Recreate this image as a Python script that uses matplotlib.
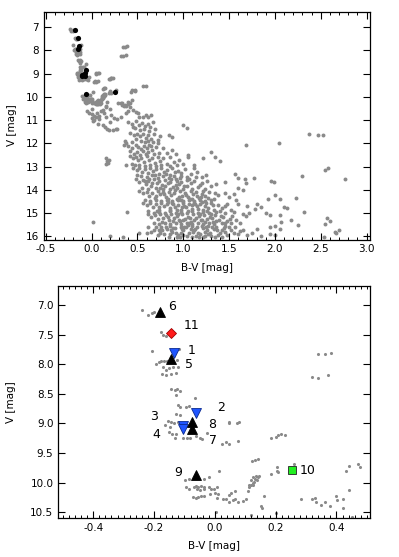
import numpy as np
import matplotlib
matplotlib.use("Agg")
import matplotlib.pyplot as plt
from matplotlib.ticker import MultipleLocator

plt.rcParams['font.family'] = ['DejaVu Sans']

# ---- field stars in the zoomed region (also shown in top panel)
near_bv = [-0.24, -0.22, -0.205, -0.20, -0.178, -0.17, -0.16, -0.205, -0.118,
           -0.192, -0.184, -0.176, -0.167, -0.157, -0.123, -0.174, -0.16, -0.143, -0.127,
           -0.17, -0.162, -0.151, -0.136, -0.121,
           -0.143, -0.132, -0.124, -0.116, -0.127, -0.064,
           -0.121, -0.113, -0.096, -0.085, -0.127, -0.114,
           -0.155, -0.144, -0.133, -0.120, -0.110, -0.151, -0.140, -0.127,
           -0.132, -0.105, -0.092, -0.083, -0.061, -0.050, -0.041, -0.026, -0.163, -0.149,
           0.046, 0.046, 0.072, 0.081, 0.024, 0.037, 0.045, 0.075,
           -0.099, -0.086, -0.034, -0.020, 0.015,
           -0.096, -0.085, -0.070, -0.061, -0.054, -0.046, -0.037, -0.020, -0.011,
           -0.059, -0.048, -0.037, -0.072, -0.063, -0.056, -0.046, -0.034, -0.017,
           -0.004, 0.007, 0.002, 0.010, 0.007,
           0.026, 0.037, 0.046, 0.059, 0.068, 0.075, 0.092, 0.101, 0.048, 0.054, 0.068,
           0.108, 0.114, 0.119, 0.127, 0.133, 0.141,
           0.122, 0.133, 0.141, 0.185, 0.201, 0.207, 0.217, 0.232,
           0.203, 0.204, 0.209, 0.185, 0.261,
           0.125, 0.135, 0.144, 0.119, 0.130, 0.138, 0.114, 0.125,
           0.163, 0.152, 0.155, 0.201, 0.003,
           0.283, 0.321, 0.330, 0.332, 0.349, 0.363, 0.379, 0.400, 0.401, 0.420, 0.422, 0.442,
           0.431, 0.442, 0.471, 0.476,
           0.341, 0.362, 0.381, 0.321, 0.341, 0.372]
near_v = [7.08, 7.17, 7.14, 7.12, 7.46, 7.51, 7.52, 7.78, 7.75,
          7.99, 7.96, 7.95, 7.95, 7.95, 7.93, 8.17, 8.19, 8.17, 8.15,
          8.05, 8.09, 8.06, 8.05, 8.05,
          8.42, 8.44, 8.41, 8.45, 8.52, 8.57,
          8.69, 8.73, 8.72, 8.70, 8.84, 8.86,
          8.95, 8.97, 8.99, 8.98, 9.00, 9.14, 9.17, 9.18,
          9.25, 9.25, 9.24, 9.24, 9.21, 9.24, 9.27, 9.16, 9.03, 9.06,
          8.97, 9.00, 8.99, 8.98, 9.34, 9.32, 9.34, 9.30,
          9.96, 9.94, 9.93, 9.91, 9.80,
          10.08, 10.10, 10.07, 10.06, 10.07, 10.06, 10.07, 10.08, 10.10,
          10.11, 10.12, 10.11, 10.24, 10.25, 10.24, 10.22, 10.22, 10.19,
          10.11, 10.08, 10.18, 10.19, 10.25,
          10.28, 10.28, 10.32, 10.29, 10.27, 10.32, 10.31, 10.28, 10.21, 10.17, 10.14,
          10.14, 10.08, 10.03, 10.00, 9.94, 9.91,
          9.64, 9.62, 9.60, 9.24, 9.22, 9.19, 9.18, 9.19,
          9.73, 9.80, 9.82, 9.85, 9.69,
          9.90, 9.89, 9.88, 9.96, 9.98, 9.96, 10.04, 10.04,
          10.22, 10.40, 10.42, 10.51, 10.50,
          10.27, 10.28, 10.26, 10.33, 10.37, 10.33, 10.39, 10.23, 10.29, 10.28, 10.42, 10.13,
          9.80, 9.71, 9.69, 9.73,
          7.83, 7.83, 7.81, 8.22, 8.23, 8.18]

# ---- fainter / redder field stars (top panel only)
far_bv = [0.56, 0.59, -0.03, 0.00, 0.03, 0.05, 0.08, 0.01, 0.03, 0.08, 0.16, 0.21, 0.25, 0.28, 0.32,
          0.45, 0.48, 0.51, 0.52, 0.56, 0.59, 0.62, 0.65, 0.40, 0.38, 0.12, 0.10, 0.14, -0.05, 0.06,
          0.15, 0.17, 0.19, 0.23, 0.27, 0.28, 0.20, 0.12, 0.07, 0.02,
          0.40, 0.44, 0.48, 0.52, 0.55, 0.58, 0.61, 0.64, 0.47, 0.53, 0.57, 0.63, 0.67, 0.69, 1.00, 1.04, 0.45,
          0.42, 0.46, 0.50, 0.53, 0.56, 0.59, 0.62, 0.65, 0.68, 0.72, 0.48, 0.54, 0.58, 0.61, 0.44, 0.37,
          0.84, 0.88, 0.67, 0.75, 0.36,
          0.35, 0.40, 0.44, 0.48, 0.51, 0.54, 0.57, 0.60, 0.63, 0.66, 0.70, 0.74, 0.78, 0.42, 0.46, 0.50,
          0.53, 0.56, 0.59, 0.62, 0.68, 0.82, 0.88, 0.92, 1.05, 1.30, 1.68, 2.04, 2.37, 2.47, 2.52, 0.72, 0.65,
          0.16, 0.17, 0.18, 0.16, 0.19,
          0.42, 0.45, 0.48, 0.51, 0.54, 0.57, 0.60, 0.63, 0.66, 0.69, 0.72, 0.75, 0.78, 0.82, 0.86, 0.90,
          0.95, 1.00, 1.05, 1.12, 1.22, 1.35, 1.40, 0.38, 0.44, 0.47, 0.52, 0.58, 0.64, 0.70, 0.76, 0.85, 0.93,
          0.45, 0.49, 0.52, 0.55, 0.58, 0.61, 0.64, 0.67, 0.70, 0.73, 0.76, 0.79, 0.82, 0.85, 0.88, 0.91,
          0.94, 0.98, 1.02, 1.08, 1.15, 1.20, 0.50, 0.54, 0.60, 0.66, 0.72, 0.78, 0.84, 0.90, 0.96, 1.04,
          1.25, 1.56, 1.60, 1.67, 1.77, 2.55, 2.58, 2.30, 1.12,
          0.48, 0.52, 0.56, 0.59, 0.62, 0.65, 0.68, 0.71, 0.74, 0.77, 0.80, 0.83, 0.86, 0.89, 0.92, 0.95,
          0.98, 1.01, 1.04, 1.08, 1.12, 1.16, 1.20, 1.26, 1.30, 1.36, 0.55, 0.62, 0.70, 0.78, 0.85, 0.93,
          1.00, 1.10, 1.68, 1.96, 1.99, 2.76, 1.60, 1.45,
          0.52, 0.56, 0.60, 0.63, 0.66, 0.69, 0.72, 0.75, 0.78, 0.81, 0.84, 0.87, 0.90, 0.93, 0.96, 0.99,
          1.02, 1.05, 1.08, 1.11, 1.14, 1.17, 1.20, 1.24, 1.28, 1.33, 1.38, 1.45, 0.58, 0.64, 0.70, 0.76,
          0.82, 0.88, 0.94, 1.00, 1.06, 1.12, 1.18, 1.24, 1.30, 1.65, 1.92, 2.00, 2.05, 2.23, 1.50, 1.58, 1.55,
          0.56, 0.60, 0.64, 0.67, 0.70, 0.73, 0.76, 0.79, 0.82, 0.85, 0.88, 0.91, 0.94, 0.97, 1.00, 1.03,
          1.06, 1.09, 1.12, 1.15, 1.18, 1.21, 1.24, 1.27, 1.30, 1.34, 1.38, 1.42, 1.48, 1.52, 0.62, 0.68,
          0.74, 0.80, 0.86, 0.92, 0.98, 1.04, 1.10, 1.16, 1.22, 1.28, 1.36, 1.70, 1.80, 1.85, 1.78, 2.10,
          2.13, 2.32, 0.39, 1.60,
          0.61, 0.65, 0.69, 0.72, 0.75, 0.78, 0.81, 0.84, 0.87, 0.90, 0.93, 0.96, 0.99, 1.02, 1.05, 1.08,
          1.11, 1.14, 1.17, 1.20, 1.23, 1.26, 1.29, 1.32, 1.35, 1.39, 1.43, 1.48, 1.53, 1.58, 0.68, 0.74,
          0.80, 0.86, 0.92, 0.98, 1.04, 1.10, 1.16, 1.22, 1.28, 1.34, 1.42, 1.65, 1.68, 1.90, 1.95, 2.05,
          2.18, 2.07, 2.57, 2.60, 2.55, 0.02, 1.72, 1.62,
          0.52, 0.60, 0.65, 0.70, 0.73, 0.76, 0.79, 0.82, 0.85, 0.88, 0.91, 0.94, 0.97, 1.00, 1.03, 1.06,
          1.09, 1.12, 1.15, 1.18, 1.21, 1.24, 1.27, 1.30, 1.33, 1.36, 1.40, 1.44, 1.48, 1.52, 1.56, 1.60,
          1.65, 1.70, 1.75, 1.80, 1.85, 1.95, 2.00, 2.05, 1.95, 2.00, 2.25, 2.65, 2.70, 2.67, 2.53, 0.84,
          0.96, 1.10, 1.22, 1.35, 0.20, 0.34, 0.72, 0.86, 1.00, 1.14, 1.27, 1.45, 0.98, 1.11, 1.24, 0.62,
          0.83, 0.95, 1.07, 1.19, 0.89, 1.01, 1.13, 1.25, 0.95, 1.07, 1.19, 1.31, 0.89, 1.01, 1.13, 1.25,
          1.37, 0.77, 0.80, 0.92, 1.04, 0.74, 0.86, 1.46, 1.52, 1.55, 1.45]
far_v = [9.53, 9.53, 10.68, 10.74, 10.80, 10.88, 10.81, 10.92, 11.00, 10.97, 10.88, 10.78, 10.92, 10.97, 10.85,
         10.57, 10.64, 10.71, 10.88, 10.88, 10.78, 10.85, 10.78, 10.62, 10.70, 10.55, 10.62, 10.68, 10.60, 10.70,
         11.31, 11.36, 11.43, 11.43, 11.40, 11.36, 11.10, 11.20, 11.15, 11.05,
         11.08, 11.15, 11.05, 11.20, 11.12, 11.25, 11.18, 11.30, 11.35, 11.42, 11.38, 11.45, 11.10, 11.40, 11.20, 11.35, 11.28,
         11.55, 11.62, 11.58, 11.70, 11.60, 11.75, 11.65, 11.80, 11.58, 11.85, 11.82, 11.90, 11.95, 11.88, 11.92, 11.97,
         11.62, 11.72, 11.95, 11.70, 11.88,
         12.05, 12.12, 12.20, 12.05, 12.15, 12.25, 12.10, 12.20, 12.05, 12.30, 12.15, 12.40, 12.22, 12.35, 12.45, 12.38,
         12.48, 12.35, 12.45, 12.38, 12.45, 12.42, 12.30, 12.45, 12.50, 12.38, 12.05, 12.00, 11.60, 11.65, 11.65, 12.00, 12.12,
         12.65, 12.75, 12.85, 12.90, 12.70,
         12.55, 12.65, 12.58, 12.72, 12.62, 12.80, 12.55, 12.70, 12.62, 12.85, 12.58, 12.75, 12.65, 12.90, 12.60, 12.80,
         12.70, 12.88, 12.60, 12.95, 12.62, 12.58, 12.78, 12.95, 12.88, 12.95, 12.92, 12.98, 12.92, 12.98, 12.92, 12.98, 12.95,
         13.05, 13.15, 13.05, 13.22, 13.10, 13.28, 13.08, 13.20, 13.12, 13.30, 13.05, 13.22, 13.15, 13.35, 13.08, 13.25,
         13.18, 13.40, 13.12, 13.30, 13.22, 13.45, 13.35, 13.42, 13.45, 13.38, 13.48, 13.40, 13.48, 13.42, 13.48, 13.45,
         13.35, 13.30, 13.48, 13.54, 13.47, 13.15, 13.08, 13.40, 13.05,
         13.55, 13.65, 13.58, 13.75, 13.62, 13.85, 13.55, 13.70, 13.62, 13.80, 13.58, 13.72, 13.65, 13.88, 13.55, 13.75,
         13.65, 13.85, 13.58, 13.72, 13.62, 13.90, 13.70, 13.60, 13.85, 13.75, 13.92, 13.95, 13.92, 13.95, 13.98, 13.92,
         13.98, 13.95, 13.70, 13.60, 13.66, 13.55, 13.92, 13.65,
         14.05, 14.15, 14.08, 14.25, 14.12, 14.35, 14.05, 14.20, 14.10, 14.30, 14.08, 14.22, 14.15, 14.38, 14.05, 14.25,
         14.12, 14.32, 14.05, 14.20, 14.10, 14.35, 14.18, 14.28, 14.08, 14.40, 14.22, 14.15, 14.42, 14.48, 14.45, 14.48,
         14.42, 14.48, 14.45, 14.48, 14.42, 14.48, 14.45, 14.48, 14.45, 14.02, 14.40, 14.22, 14.38, 14.35, 14.30, 14.45, 14.20,
         14.55, 14.65, 14.58, 14.75, 14.62, 14.85, 14.55, 14.70, 14.60, 14.80, 14.55, 14.72, 14.65, 14.88, 14.55, 14.75,
         14.62, 14.82, 14.55, 14.70, 14.60, 14.85, 14.68, 14.78, 14.58, 14.88, 14.65, 14.78, 14.60, 14.85, 14.92, 14.98,
         14.95, 14.98, 14.92, 14.98, 14.95, 14.98, 14.92, 14.98, 14.95, 14.98, 14.95, 14.70, 14.60, 14.72, 14.82, 14.75,
         14.80, 14.95, 14.95, 14.62,
         15.02, 15.15, 15.08, 15.25, 15.05, 15.20, 15.10, 15.32, 15.05, 15.22, 15.12, 15.35, 15.05, 15.25, 15.15, 15.38,
         15.05, 15.22, 15.12, 15.32, 15.08, 15.25, 15.15, 15.40, 15.08, 15.28, 15.18, 15.35, 15.12, 15.30, 15.42, 15.48,
         15.45, 15.48, 15.42, 15.48, 15.45, 15.48, 15.42, 15.48, 15.45, 15.48, 15.45, 15.05, 15.12, 15.00, 15.10, 15.10,
         15.30, 15.40, 15.20, 15.35, 15.48, 15.38, 14.98, 15.42,
         15.88, 15.85, 15.82, 15.62, 15.75, 15.58, 15.90, 15.68, 15.55, 15.80, 15.65, 15.95, 15.58, 15.75, 15.62, 15.88,
         15.55, 15.72, 15.60, 15.92, 15.65, 15.82, 15.55, 15.98, 15.70, 15.58, 15.88, 15.65, 15.95, 15.75, 15.60, 15.90,
         15.72, 15.95, 15.85, 15.70, 16.00, 15.90, 15.95, 15.70, 15.60, 15.55, 15.50, 15.80, 15.75, 15.88, 16.02, 16.02,
         16.05, 16.02, 16.05, 16.02, 16.00, 16.05, 15.95, 15.92, 15.95, 15.98, 15.90, 15.80, 15.85, 15.80, 15.98, 15.60,
         14.38, 14.32, 14.38, 14.32, 14.62, 14.68, 14.62, 14.55, 15.28, 15.22, 15.28, 15.22, 15.65, 15.62, 15.68, 15.62,
         15.75, 15.75, 13.85, 13.78, 13.82, 14.75, 14.88, 15.55, 15.45, 14.95, 14.98]

# ---- extra stars filling the dense lower main-sequence core
core_bv = [0.70, 0.79, 0.91, 0.97, 1.03, 1.09, 1.15, 1.22, 1.27, 1.35,
           0.71, 0.83, 0.93, 0.99, 1.05, 1.10, 1.16, 1.20, 1.26, 1.32, 1.40, 1.45,
           0.77, 0.83, 0.89, 0.94, 1.00, 1.06, 1.12, 1.18, 1.24, 1.30, 1.36, 1.41, 1.46, 1.51,
           0.75, 0.81, 0.87, 0.92, 0.99, 1.04, 1.08, 1.16, 1.20, 1.26, 1.31, 1.38, 1.42, 1.50,
           1.55, 1.62, 0.68, 0.93, 1.17, 1.42, 1.05, 1.29,
           0.63, 0.69, 0.75, 0.81, 0.87, 0.93, 0.97, 1.06, 1.14, 1.18, 1.24, 0.58, 0.66]
core_v = [14.28, 14.17, 14.02, 14.44, 14.21, 14.41, 14.26, 14.05, 14.36, 14.12,
          14.92, 14.51, 14.86, 14.72, 14.90, 14.66, 14.84, 14.52, 14.93, 14.66, 14.92, 14.70,
          15.38, 15.18, 15.36, 15.02, 15.32, 15.43, 15.30, 15.04, 15.40, 15.02, 15.35, 15.12, 15.42, 15.25,
          15.88, 15.62, 15.72, 15.85, 15.68, 15.97, 15.70, 15.86, 15.55, 15.75, 15.62, 15.94, 15.72, 15.62,
          15.85, 15.78, 15.72, 16.03, 16.04, 16.02, 15.52, 15.86,
          13.52, 13.35, 13.92, 13.30, 13.55, 13.62, 13.28, 13.55, 13.45, 13.78, 13.95, 13.62, 13.72]

# ---- program stars
star_id = ['1', '2', '3', '4', '5', '6', '7', '8', '9', '10', '11']
star_bv = [-0.135, -0.063, -0.105, -0.105, -0.145, -0.181, -0.074, -0.074, -0.063, 0.253, -0.143]
star_v = [7.81, 8.83, 9.04, 9.09, 7.92, 7.12, 9.09, 8.97, 9.87, 9.79, 7.48]
star_kind = ['blue', 'blue', 'blue', 'blue', 'black', 'black', 'black', 'black', 'black', 'green', 'red']

# label offsets in points
lab_dx = [13, 18.5, -20.5, -19.5, 13, 9, 14.7, 14.3, -12.3, 11.4, 14.5]
lab_dy = [2, 4.3, 6.4, -3.8, -3.8, 4.3, -8.5, -1.7, 1.7, 0, 5.5]

styles = {
    'blue': dict(marker='v', color='#1f55ff', mec='#0a2a90', ms=6.8),
    'black': dict(marker='^', color='black', mec='black', ms=6.5),
    'green': dict(marker='s', color='#22ee22', mec='#222222', ms=5.8),
    'red': dict(marker='D', color='#ff1a1a', mec='#a00000', ms=5.2),
}

gray = '#8a8a8a'
all_bv = np.array(near_bv + far_bv + core_bv)
all_v = np.array(near_v + far_v + core_v)

fig = plt.figure(figsize=(3.99, 5.57), dpi=100)

def style_axes(ax):
    for s in ax.spines.values():
        s.set_linewidth(0.9)
    ax.tick_params(which='both', direction='in', top=True, right=True, labelsize=7.5)
    ax.tick_params(which='major', length=5, width=0.8)
    ax.tick_params(which='minor', length=2.5, width=0.7)

# top panel: full CMD
ax1 = fig.add_axes([0.110, 0.570, 0.817, 0.409])
ax1.scatter(all_bv, all_v, s=8, c=gray, lw=0)
ax1.scatter(star_bv, star_v, s=14, c='black', lw=0, zorder=3)
ax1.set_xlim(-0.52, 3.035)
ax1.set_ylim(16.14, 6.33)
ax1.xaxis.set_major_locator(MultipleLocator(0.5))
ax1.xaxis.set_minor_locator(MultipleLocator(0.1))
ax1.yaxis.set_major_locator(MultipleLocator(1))
ax1.xaxis.set_major_formatter(plt.FormatStrFormatter('%.1f'))
ax1.set_xlabel('B-V [mag]', fontsize=7.5, labelpad=6)
ax1.set_ylabel('V [mag]', fontsize=7.5, labelpad=6)
style_axes(ax1)

# bottom panel: zoom on the upper main sequence
ax2 = fig.add_axes([0.146, 0.0695, 0.781, 0.417])
ax2.scatter(all_bv, all_v, s=5, c=gray, lw=0)
for i in range(len(star_id)):
    ax2.plot(star_bv[i], star_v[i], ls='none', mew=0.6, zorder=3, **styles[star_kind[i]])
    ax2.annotate(star_id[i], (star_bv[i], star_v[i]), xytext=(lab_dx[i], lab_dy[i]),
                 textcoords='offset points', ha='center', va='center', fontsize=9)
ax2.set_xlim(-0.515, 0.51)
ax2.set_ylim(10.6, 6.68)
ax2.xaxis.set_major_locator(MultipleLocator(0.2))
ax2.xaxis.set_minor_locator(MultipleLocator(0.02))
ax2.yaxis.set_major_locator(MultipleLocator(0.5))
ax2.xaxis.set_major_formatter(plt.FormatStrFormatter('%.1f'))
ax2.yaxis.set_major_formatter(plt.FormatStrFormatter('%.1f'))
ax2.set_xlabel('B-V [mag]', fontsize=7.5, labelpad=6)
ax2.set_ylabel('V [mag]', fontsize=7.5, labelpad=10)
style_axes(ax2)

fig.savefig('out.png', dpi=100)
